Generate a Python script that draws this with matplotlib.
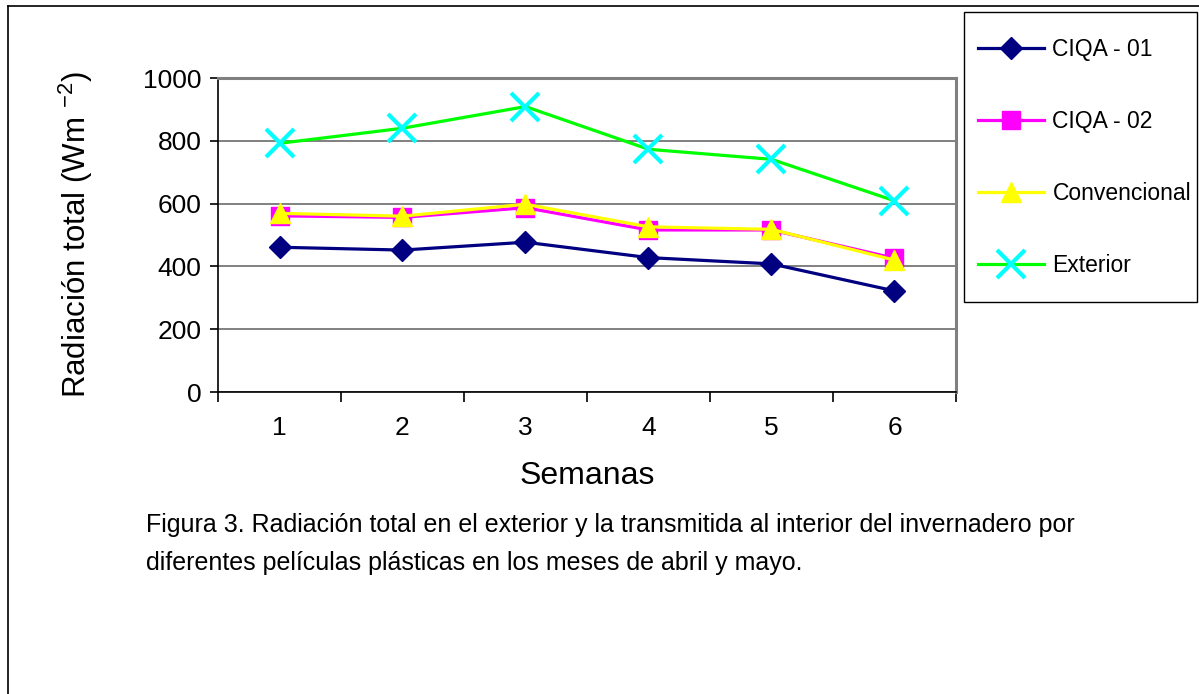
import matplotlib
matplotlib.use("Agg")
import matplotlib.pyplot as plt
from matplotlib.lines import Line2D
from matplotlib.patches import Rectangle

plt.rcParams["font.family"] = ["Liberation Sans", "DejaVu Sans"]
plt.rcParams["mathtext.default"] = "regular"

# ── Data ──────────────────────────────────────────────────────────────────────

semanas = [1, 2, 3, 4, 5, 6]
ciqa_01 = [461, 452, 477, 428, 408, 322]
ciqa_02 = [561, 556, 587, 516, 516, 426]
convencional = [569, 560, 598, 526, 518, 420]
exterior = [792, 840, 909, 773, 741, 609]

series = [
    ("CIQA - 01", ciqa_01, dict(color="#000080", marker="D", markersize=11,
                                markerfacecolor="#000080", markeredgecolor="#000080")),
    ("CIQA - 02", ciqa_02, dict(color="#FF00FF", marker="s", markersize=13,
                                markerfacecolor="#FF00FF", markeredgecolor="#FF00FF")),
    ("Convencional", convencional, dict(color="#FFFF00", marker="^", markersize=14,
                                        markerfacecolor="#FFFF00", markeredgecolor="#FFFF00")),
    ("Exterior", exterior, dict(color="#00FF00", marker="x", markersize=20,
                                markeredgecolor="#00FFFF", markeredgewidth=3)),
]

caption = ("Figura 3. Radiación total en el exterior y la transmitida al interior del invernadero por\n"
           "diferentes películas plásticas en los meses de abril y mayo.")

# ── Figure ────────────────────────────────────────────────────────────────────

W, H = 1199, 694
fig = plt.figure(figsize=(W / 100, H / 100), dpi=100)
ax = fig.add_axes([218 / W, 1 - 392 / H, 738 / W, 314 / H])

handles = []
for label, values, style in series:
    h, = ax.plot(semanas, values, linewidth=2.3, label=label, clip_on=False, **style)
    handles.append(h)

ax.set_xlim(0.5, 6.5)
ax.set_ylim(0, 1000)
ax.set_yticks([0, 200, 400, 600, 800, 1000])
ax.grid(axis="y", color="#808080", linewidth=1.4)
ax.set_axisbelow(True)

# category boundaries get the tick marks, labels sit at the centres
ax.set_xticks([0.5, 1.5, 2.5, 3.5, 4.5, 5.5, 6.5])
ax.set_xticklabels([])
ax.set_xticks(semanas, minor=True)
ax.set_xticklabels([str(s) for s in semanas], minor=True)
ax.tick_params(axis="x", which="major", direction="out", length=7, width=1.2, color="#000000")
ax.tick_params(axis="x", which="minor", length=0, labelsize=19, pad=17)
ax.tick_params(axis="y", direction="out", length=6, width=1.2, labelsize=19, pad=6)

for side in ("left", "bottom"):
    ax.spines[side].set_color("#000000")
    ax.spines[side].set_linewidth(1.2)
for side in ("top", "right"):
    ax.spines[side].set_color("#808080")
    ax.spines[side].set_linewidth(2.2)

fig.text(76 / W, 1 - 235 / H, "Radiación total (Wm $^{-2}$)", rotation=90,
         fontsize=22.5, ha="center", va="center")
fig.text(587 / W, 1 - 476 / H, "Semanas", fontsize=23, ha="center", va="center")
fig.text(146 / W, 1 - 544 / H, caption, fontsize=18, ha="left", va="center",
         linespacing=1.75)

# legend box
fig.patches.append(Rectangle((964 / W, 1 - 302 / H), 233 / W, 290 / H,
                             transform=fig.transFigure, facecolor="white",
                             edgecolor="#000000", linewidth=1.0))
fig.legend(handles=handles, loc="upper left", bbox_to_anchor=(978 / W, 1 - 38 / H),
           frameon=False, fontsize=16.5, handlelength=2.9, handletextpad=0.35,
           labelspacing=2.14, borderpad=0, borderaxespad=0)

# outer frame
fig.add_artist(Line2D([8 / W, 8 / W], [0, 1 - 6 / H], transform=fig.transFigure,
                      color="#000000", linewidth=1.2))
fig.add_artist(Line2D([8 / W, 1], [1 - 6 / H, 1 - 6 / H], transform=fig.transFigure,
                      color="#000000", linewidth=1.2))

fig.savefig("out.png", dpi=100)
